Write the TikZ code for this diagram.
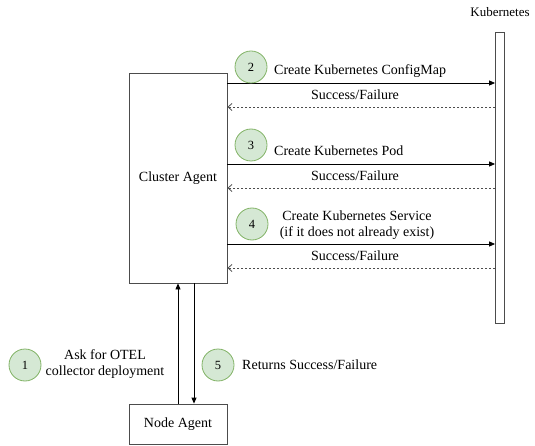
\documentclass[tikz,border=0pt]{standalone}
\usepackage{fontspec}
\setmainfont{Liberation Serif}
\usetikzlibrary{arrows.meta,positioning}
\definecolor{stepFill}{HTML}{D5E8D4}
\definecolor{stepLine}{HTML}{82B366}
\tikzset{agent box/.style={draw=black!70, thick, minimum width=98pt, inner sep=0pt}}
\tikzset{step circle/.style={circle, draw=stepLine, fill=stepFill, thick, minimum size=32pt, inner sep=0pt, font=\fontsize{12.5}{14}\selectfont}}
\tikzset{
	req/.style={draw=black, thick, -{Triangle[length=6pt,width=5pt]}},
	resp/.style={draw=black!70, thick, dashed, dash pattern=on 2.5pt off 1.5pt, -{Straight Barb[length=4pt,width=7pt]}},
	msg/.style={font=\fontsize{14}{16}\selectfont, inner sep=0pt}
}

\begin{document}
\begin{tikzpicture}[x=1pt,y=-1pt]
	\useasboundingbox (0,0) rectangle (535,446);
	\node[agent box, minimum height=210pt] at (178,178) (cluster) {\fontsize{14}{16}\selectfont Cluster Agent};
	\node[agent box, minimum height=40pt] at (178,424) (nodeagent) {\fontsize{14}{16}\selectfont Node Agent};
	\node[draw=black!70, thick, minimum width=9pt, minimum height=291pt, inner sep=0pt] at (500,177.5) (kube) {};
	\node[msg, font=\fontsize{13}{15}\selectfont] at (500,12) (kubelabel) {Kubernetes};
	% rows of the messages
	\coordinate (r2) at (0,83);
	\coordinate (s2) at (0,107);
	\coordinate (r3) at (0,164);
	\coordinate (s3) at (0,188);
	\coordinate (r4) at (0,244);
	\coordinate (s4) at (0,268);
	\coordinate (up) at (178,0);
	\coordinate (down) at (194,0);
	\path (cluster.east |- r2) edge[req] (kube.west |- r2);
	\path (kube.west |- s2) edge[resp] (cluster.east |- s2);
	\path (cluster.east |- r3) edge[req] (kube.west |- r3);
	\path (kube.west |- s3) edge[resp] (cluster.east |- s3);
	\path (cluster.east |- r4) edge[req] (kube.west |- r4);
	\path (kube.west |- s4) edge[resp] (cluster.east |- s4);
	\path (nodeagent.north -| up) edge[req] (cluster.south -| up);
	\path (cluster.south -| down) edge[req] (nodeagent.north -| down);
	% steps
	\node[step circle] at (251,67) (c2) {2};
	\node[step circle] at (251,145) (c3) {3};
	\node[step circle] at (252,224) (c4) {4};
	\node[step circle] at (25,365) (c1) {1};
	\node[step circle] at (218,365) (c5) {5};
	\node[msg, anchor=west] at (274,71) (m2) {Create Kubernetes ConfigMap};
	\node[msg] at (355,95) (f2) {Success/Failure};
	\node[msg, anchor=west] at (274,151) (m3) {Create Kubernetes Pod};
	\node[msg] at (355,176) (f3) {Success/Failure};
	\node[msg, align=center] at (357,225) (m4) {Create Kubernetes Service\\(if it does not already exist)};
	\node[msg] at (355,256) (f4) {Success/Failure};
	\node[msg, align=center] at (105,364) (m1) {Ask for OTEL\\collector deployment};
	\node[msg, anchor=west] at (242,365) (m5) {Returns Success/Failure};
\end{tikzpicture}
\end{document}
